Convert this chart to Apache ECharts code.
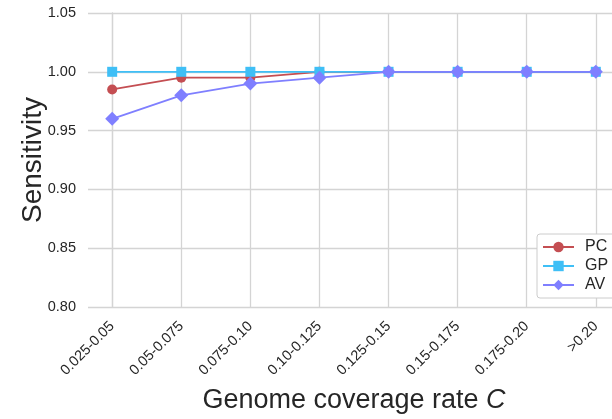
<!DOCTYPE html>
<html><head><meta charset="utf-8">
<script src="https://cdn.jsdelivr.net/npm/echarts@6/dist/echarts.min.js"></script>
<style>html,body{margin:0;padding:0;background:#fff}#c{width:612px;height:419px}</style>
</head><body><div id="c"></div>
<script>
var categories = ['0.025-0.05','0.05-0.075','0.075-0.10','0.10-0.125','0.125-0.15','0.15-0.175','0.175-0.20','>0.20'];
var pcValues = [0.985, 0.995, 0.995, 1.0, 1.0, 1.0, 1.0, 1.0];
var gpValues = [1.0, 1.0, 1.0, 1.0, 1.0, 1.0, 1.0, 1.0];
var avValues = [0.96, 0.98, 0.99, 0.995, 1.0, 1.0, 1.0, 1.0];
var yTicks = [0.80, 0.85, 0.90, 0.95, 1.00, 1.05];

var FONT = 'Liberation Sans';
var idx = categories.map(function(_, i){ return i; });
function pairs(v){ return v.map(function(y,i){ return [i,y]; }); }

var chart = echarts.init(document.getElementById('c'), null, {renderer:'canvas'});
chart.setOption({
  animation:false,
  textStyle:{fontFamily:FONT},
  grid:{left:88, width:532, top:13, height:294, containLabel:false, outerBoundsMode:'none'},
  xAxis:{
    type:'value', min:-0.35, max:7.35,
    axisLine:{show:false},
    axisTick:{show:false, customValues:idx},
    splitLine:{show:true, lineStyle:{color:'#d4d4d4', width:1.3}},
    axisLabel:{customValues:idx, rotate:45, fontSize:14.5, color:'#262626', margin:17, fontFamily:FONT,
      formatter:function(v){ return categories[Math.round(v)]; }},
    name:'Genome coverage rate {i|C}', nameLocation:'middle', nameGap:80,
    nameTextStyle:{fontSize:27, color:'#262626', fontFamily:FONT, rich:{i:{fontStyle:'italic', fontSize:27, color:'#262626', fontFamily:FONT}}}
  },
  yAxis:{
    type:'value', min:yTicks[0], max:yTicks[yTicks.length-1], interval:0.05,
    axisLine:{show:true, lineStyle:{color:'#d4d4d4', width:1.3}},
    axisTick:{show:false},
    splitLine:{show:true, lineStyle:{color:'#d4d4d4', width:1.3}},
    axisLabel:{fontSize:14.5, color:'#262626', margin:12, fontFamily:FONT,
      formatter:function(v){ return v.toFixed(2); }},
    name:'Sensitivity', nameLocation:'middle', nameGap:41, nameMoveOverlap:false,
    nameTextStyle:{fontSize:28, color:'#262626', fontFamily:FONT}
  },
  legend:{
    orient:'vertical', left:537, top:234,
    padding:[5,20,5,5],
    itemWidth:31, itemHeight:13, itemGap:3,
    borderColor:'#cccccc', borderWidth:1, borderRadius:3, backgroundColor:'#fff',
    textStyle:{fontSize:16, color:'#262626', fontFamily:FONT, padding:[0,0,0,6]},
    data:['PC','GP','AV']
  },
  series:[
    {name:'PC', type:'line', data:pairs(pcValues), symbol:'circle', symbolSize:10,
     color:'#c44e52', lineStyle:{width:1.8, color:'#c44e52'}, itemStyle:{color:'#c44e52'}, z:2},
    {name:'GP', type:'line', data:pairs(gpValues), symbol:'rect', symbolSize:10,
     color:'#3fbff6', lineStyle:{width:1.8, color:'#3fbff6'}, itemStyle:{color:'#3fbff6'}, z:3},
    {name:'AV', type:'line', data:pairs(avValues), symbol:'diamond', symbolSize:14,
     color:'#7f7fff', lineStyle:{width:1.8, color:'#7f7fff'}, itemStyle:{color:'#7f7fff'}, z:4}
  ]
});
</script></body></html>
